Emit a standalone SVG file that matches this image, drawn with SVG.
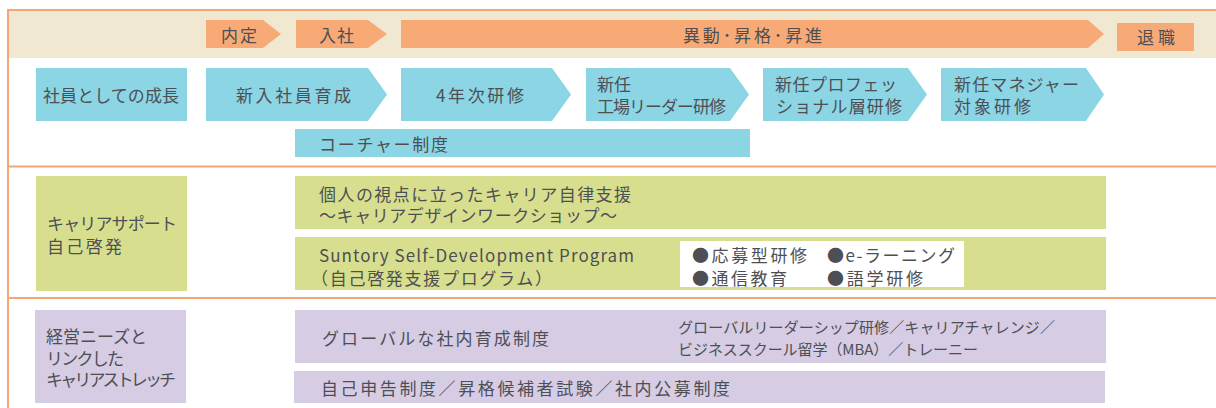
<svg xmlns="http://www.w3.org/2000/svg" width="1216" height="408" viewBox="0 0 1216 408">
<style>
text{font-family:"Noto Sans CJK JP","Noto Sans",sans-serif;font-size:17px;fill:#4d4f55;dominant-baseline:central}
.sm{font-size:15px}
.or{fill:#f7aa76}
.bl{fill:#8cd5e4}
.gr{fill:#d7df8e}
.pu{fill:#d6cce4}
.ln{stroke:#f4a676;stroke-width:2;fill:none}
</style>
<g id="frame">
<rect x="8" y="10" width="1208" height="48" fill="#f1e8d2"/>
<line class="ln" x1="8" y1="10" x2="1216" y2="10"/>
<line class="ln" x1="8" y1="9" x2="8" y2="408"/>
<line class="ln" x1="8" y1="166.5" x2="1216" y2="166.5"/>
<line class="ln" x1="8" y1="298" x2="1216" y2="298"/>
</g>
<g id="naitei"><path class="or" d="M206,20H263L281,34L263,48H206Z"/><text x="221" y="34" textLength="36">内定</text></g>
<g id="nyusha"><path class="or" d="M296,20H368L387,34L368,48H296Z"/><text x="319" y="34" textLength="35">入社</text></g>
<g id="ido"><path class="or" d="M401,20H1088L1104,34L1088,48H401Z"/><text x="683" y="34" textLength="139">異動･昇格･昇進</text></g>
<g id="taishoku"><rect class="or" x="1117" y="23" width="77" height="28"/><text x="1137" y="36" textLength="38">退職</text></g>

<g id="growth"><rect class="bl" x="36" y="68" width="151" height="53"/><text x="43" y="94.5" textLength="136">社員としての成長</text></g>
<g id="shinnyu"><path class="bl" d="M206,68H368L387,94.5L368,121H206Z"/><text x="236" y="94.5" textLength="115">新入社員育成</text></g>
<g id="yonen"><path class="bl" d="M401,68H552L571,94.5L552,121H401Z"/><text x="436" y="94.5" textLength="88">4年次研修</text></g>
<g id="kojo"><path class="bl" d="M586,68H730L749,94.5L730,121H586Z"/><text x="597" y="83">新任</text><text x="597" y="105" textLength="129">工場リーダー研修</text></g>
<g id="pro"><path class="bl" d="M763,68H908L927,94.5L908,121H763Z"/><text x="775" y="83" textLength="122">新任プロフェッ</text><text x="776" y="105" textLength="126">ショナル層研修</text></g>
<g id="manager"><path class="bl" d="M941,68H1086L1104,94.5L1086,121H941Z"/><text x="954" y="83" textLength="125">新任マネジャー</text><text x="954" y="105" textLength="77">対象研修</text></g>
<g id="coach"><rect class="bl" x="295" y="129" width="455" height="28"/><text x="319" y="143" textLength="129">コーチャー制度</text></g>

<g id="support"><rect class="gr" x="36" y="176" width="151" height="115"/><text x="47" y="222" textLength="130">キャリアサポート</text><text x="47" y="245" textLength="75">自己啓発</text></g>
<g id="autonomy"><rect class="gr" x="295" y="176" width="811" height="53"/><text x="319" y="193" textLength="312">個人の視点に立ったキャリア自律支援</text><text x="319" y="214" textLength="298">～キャリアデザインワークショップ～</text></g>
<g id="ssdp"><rect class="gr" x="295" y="237" width="811" height="53"/><text x="319" y="254" textLength="315">Suntory Self-Development Program</text><text x="311" y="277" textLength="241">（自己啓発支援プログラム）</text>
<rect x="680" y="241" width="284" height="46" fill="#ffffff"/>
<text x="692" y="254" textLength="115">●応募型研修</text><text x="827" y="254" textLength="128">●e-ラーニング</text>
<text x="692" y="277" textLength="95">●通信教育</text><text x="827" y="277" textLength="96">●語学研修</text></g>

<g id="stretch"><rect class="pu" x="35" y="310" width="151" height="93"/><text x="46" y="335" textLength="101">経営ニーズと</text><text x="46" y="357" textLength="78">リンクした</text><text x="46" y="378" textLength="130">キャリアストレッチ</text></g>
<g id="global"><rect class="pu" x="295" y="310" width="811" height="53"/><text x="322" y="337" textLength="227">グローバルな社内育成制度</text><text class="sm" x="678" y="326" textLength="377">グローバルリーダーシップ研修／キャリアチャレンジ／</text><text class="sm" x="678" y="348" textLength="300">ビジネススクール留学（MBA）／トレーニー</text></g>
<g id="selfreport"><rect class="pu" x="294" y="371" width="811" height="32"/><text x="321" y="387" textLength="409">自己申告制度／昇格候補者試験／社内公募制度</text></g>
</svg>
